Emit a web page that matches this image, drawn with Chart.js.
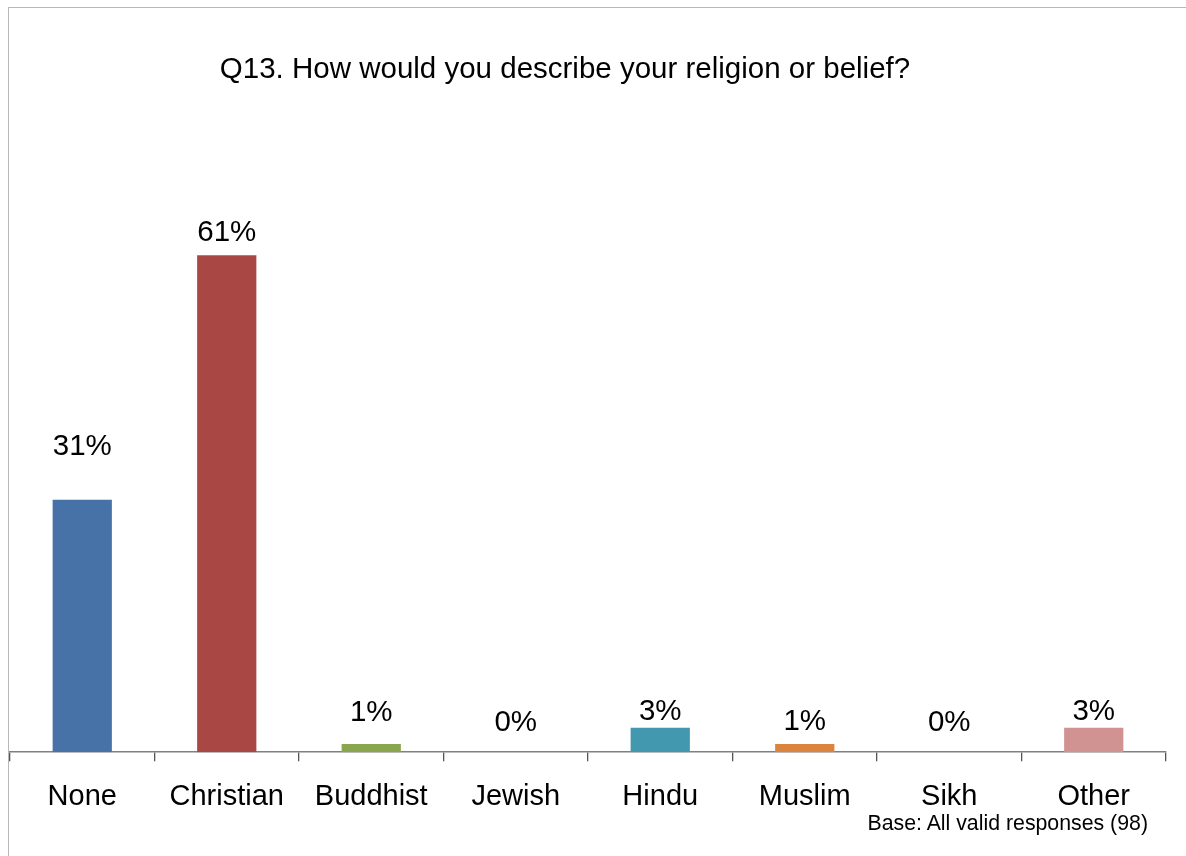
<!DOCTYPE html>
<html>
<head>
<meta charset="utf-8">
<script src="https://cdn.jsdelivr.net/npm/chart.js@4"></script>
<style>
  html, body { margin: 0; padding: 0; background: #fff; }
  #wrap { position: relative; width: 1186px; height: 856px; overflow: hidden; }
  #frame { position: absolute; left: 8px; top: 7px; right: -2px; bottom: -2px;
           border-top: 1.5px solid #b8b8b8; border-left: 1.5px solid #b8b8b8; }
  #title { position: absolute; left: 0; width: 1130px; top: 51px; text-align: center;
           font: 29.5px "Liberation Sans", Arial, sans-serif; color: #000; }
  #base { position: absolute; right: 38px; top: 811px;
          font: 21.3px "Liberation Sans", Arial, sans-serif; color: #000; }
  canvas { position: absolute; left: 0; top: 0; }
</style>
</head>
<body>
<div id="wrap">
  <canvas id="chart" width="1186" height="856"></canvas>
  <div id="frame"></div>
  <div id="title">Q13. How would you describe your religion or belief?</div>
  <div id="base">Base: All valid responses (98)</div>
</div>
<script>
// ===== DATA =====
let categories = ["None", "Christian", "Buddhist", "Jewish", "Hindu", "Muslim", "Sikh", "Other"];
let percents = [31, 61, 1, 0, 3, 1, 0, 3];
let barColors = ["#4672a8", "#a94744", "#89a54e", "#71588f", "#4198af", "#db843d", "#93a9cf", "#d09391"];

// gap between bar top and its % label, in px
let labelGap = [53, 22, 31, 29, 16, 22, 29, 16];

const FONT = "'Liberation Sans', Arial, sans-serif";

// ===== VALUE LABELS =====
const valueLabels = {
  id: "valueLabels",
  afterDatasetsDraw(chart) {
    let ctx = chart.ctx;
    let meta = chart.getDatasetMeta(0);
    ctx.save();
    ctx.font = "29.5px " + FONT;
    ctx.fillStyle = "#000";
    ctx.textAlign = "center";
    ctx.textBaseline = "middle";
    meta.data.forEach((bar, i) => {
      ctx.fillText(percents[i] + "%", bar.x, bar.y - labelGap[i]);
    });
    ctx.restore();
  }
};

// ===== CHART =====
new Chart(document.getElementById("chart"), {
  type: "bar",
  data: {
    labels: categories,
    datasets: [{
      data: percents,
      backgroundColor: barColors,
      borderWidth: 0,
      categoryPercentage: 1,
      barPercentage: 0.41
    }]
  },
  options: {
    responsive: false,
    animation: false,
    layout: { padding: { top: 182, left: 10, right: 20, bottom: 24 } },
    plugins: {
      legend: { display: false },
      tooltip: { enabled: false }
    },
    scales: {
      y: { display: false, min: 0, max: 70 },
      x: {
        offset: true,
        border: { display: true, color: "#808080", width: 1.5 },
        grid: {
          display: true,
          drawOnChartArea: false,
          drawTicks: true,
          tickLength: 9,
          color: "#555",
          lineWidth: 1.3
        },
        ticks: {
          color: "#000",
          font: { family: FONT, size: 29 },
          padding: 18,
          maxRotation: 0,
          autoSkip: false
        }
      }
    }
  },
  plugins: [valueLabels]
});
</script>
</body>
</html>
